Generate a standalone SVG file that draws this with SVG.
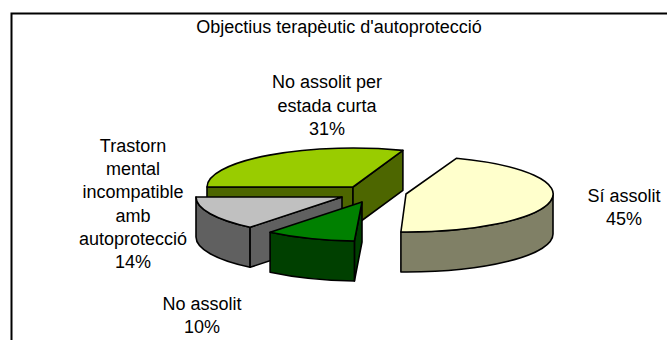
<svg xmlns="http://www.w3.org/2000/svg" width="667" height="340" viewBox="0 0 667 340">
<style>
  .t{font-family:"Liberation Sans",Arial,sans-serif;font-size:18px;fill:#000;text-anchor:middle}
  .e{stroke:#000;stroke-width:1.6;stroke-linejoin:round}
  .lgT{fill:#99CC00}.lgS{fill:#4D6600}
  .gT{fill:#C0C0C0}.gS{fill:#606060}
  .dgT{fill:#008000}.dgS{fill:#004000}
  .sT{fill:#FFFFCC}.sS{fill:#808066}
</style>
<rect width="667" height="340" fill="#fff"/>
<path d="M11.5,342 V13.5 H669" fill="none" stroke="#000" stroke-width="2"/>
<text class="t" x="339" y="33">Objectius terapèutic d'autoprotecció</text>

<g id="slice-no-assolit-estada">
  <path class="e lgS" d="M207,187 H353 V227 H207 Z"/>
  <path class="e lgS" d="M353,187 L402.9,150.4 L402.9,190.4 L353,227 Z"/>
  <path class="e lgT" d="M353,187 L207,187 A146,39 0 0 1 402.9,150.4 Z"/>
</g>
<g id="slice-trastorn">
  <path class="e gS" d="M250.1,227.3 A146,39 0 0 1 196,197 L196,237 A146,39 0 0 0 250.1,267.3 Z"/>
  <path class="e gS" d="M250.1,227.3 L342,197 L342,237 L250.1,267.3 Z"/>
  <path class="e gT" d="M342,197 L250.1,227.3 A146,39 0 0 1 196,197 Z"/>
</g>
<g id="slice-no-assolit">
  <path class="e dgS" d="M362,202 L354.4,241 L354.4,281 L362,242 Z"/>
  <path class="e dgS" d="M354.4,241 A146,39 0 0 1 270.1,232.3 L270.1,272.3 A146,39 0 0 0 354.4,281 Z"/>
  <path class="e dgT" d="M362,202 L354.4,241 A146,39 0 0 1 270.1,232.3 Z"/>
</g>
<g id="slice-si-assolit">
  <path class="e sS" d="M553,194 A147,38 0 0 1 400.9,232 L400.9,272 A147,38 0 0 0 553,234 Z"/>
  <path class="e sT" d="M406,194 L456.3,158.3 A147,38 0 0 1 400.9,232 Z"/>
</g>

<g id="label-estada">
  <text class="t" x="327" y="88">No assolit per</text>
  <text class="t" x="327" y="111.5">estada curta</text>
  <text class="t" x="327" y="135">31%</text>
</g>
<g id="label-trastorn">
  <text class="t" x="133" y="151.5">Trastorn</text>
  <text class="t" x="133" y="175">mental</text>
  <text class="t" x="133" y="198.3">incompatible</text>
  <text class="t" x="133" y="221.7">amb</text>
  <text class="t" x="133" y="245">autoprotecció</text>
  <text class="t" x="133" y="268.3">14%</text>
</g>
<g id="label-si">
  <text class="t" x="624" y="201.5">Sí assolit</text>
  <text class="t" x="624" y="225">45%</text>
</g>
<g id="label-no">
  <text class="t" x="202" y="310">No assolit</text>
  <text class="t" x="202" y="333">10%</text>
</g>
</svg>
